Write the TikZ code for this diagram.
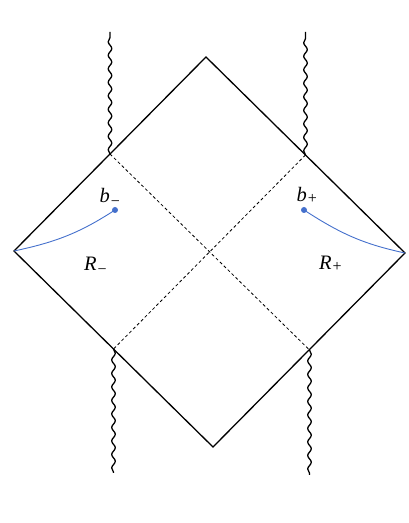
\documentclass[tikz,border=0pt]{standalone}
\usepackage{fontspec}
\setmainfont{Liberation Serif}
\usetikzlibrary{decorations.pathmorphing}
\definecolor{curveblue}{RGB}{68,112,204}
\newcommand{\lab}[3]{{\fontsize{20.5}{23}\selectfont\itshape #1}\kern0.8pt\raisebox{#3}{\fontsize{16}{17}\selectfont #2}}
\begin{document}
\begin{tikzpicture}[x=1pt,y=1pt,
  edge/.style={line width=1.3pt,line join=miter},
  sing/.style={line width=1.3pt,decorate,decoration={snake,amplitude=1.8pt,segment length=13.5pt}},
  horizon/.style={line width=0.8pt,dash pattern=on 3pt off 2.5pt},
  geod/.style={curveblue,line width=0.9pt},
  lbl/.style={inner sep=0pt,anchor=base west}]
\useasboundingbox (0,0) rectangle (409,523);
\coordinate (T) at (206,466);
\coordinate (L) at (14,272);
\coordinate (R) at (405,270);
\coordinate (B) at (213,76);
\coordinate (TL) at (110,369);
\coordinate (TR) at (305.5,368);
\coordinate (BL) at (113.5,174);
\coordinate (BR) at (309.5,173);
\coordinate (TLe) at (110,491);
\coordinate (TRe) at (305.5,491);
\coordinate (BLe) at (113.5,50);
\coordinate (BRe) at (309.5,48);
\draw[edge] (T) -- (L) -- (B) -- (R) -- cycle;
\draw[sing] (TL) -- (TLe);
\draw[sing] (TR) -- (TRe);
\draw[sing] (BL) -- (BLe);
\draw[sing] (BR) -- (BRe);
\draw[horizon] (TL) -- (BR);
\draw[horizon] (TR) -- (BL);
\node[circle,fill=curveblue,inner sep=0pt,minimum size=6pt] (dl) at (115,313) {};
\node[circle,fill=curveblue,inner sep=0pt,minimum size=6pt] (dr) at (304,313) {};
\draw[geod] (L) to[out=12,in=213] (dl.center);
\draw[geod] (R) to[out=168,in=-33] (dr.center);
\node[lbl] (bm) at (99.5,320) {\lab{b}{−}{-3.5pt}};
\node[lbl] (bp) at (296.5,321) {\lab{b}{+}{-1.5pt}};
\node[lbl] (Rm) at (84,252) {\lab{R}{−}{-3.5pt}};
\node[lbl] (Rp) at (319,253) {\lab{R}{+}{-1.5pt}};
\end{tikzpicture}
\end{document}
